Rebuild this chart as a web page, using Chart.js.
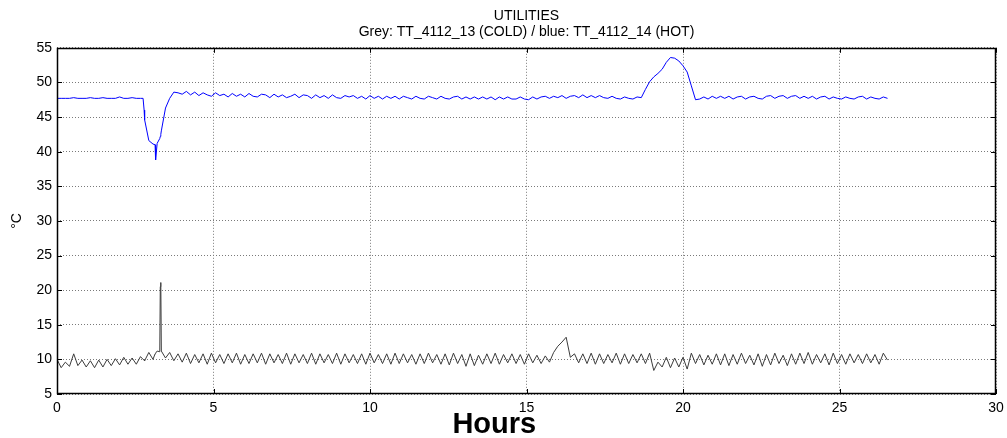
<!DOCTYPE html>
<html>
<head>
<meta charset="utf-8">
<script src="https://cdn.jsdelivr.net/npm/chart.js@4"></script>
<style>
html, body { margin: 0; padding: 0; background: #fff; }
</style>
</head>
<body>
<canvas id="grafico" width="1007" height="438"></canvas>
<script>
// sample times in minutes since start
const minutes = [
  0, 8, 16, 24, 32, 40, 48, 56, 64, 72,
  80, 88, 96, 104, 112, 120, 128, 136, 144, 152,
  160, 165, 167, 168, 176, 184, 188, 189, 192, 197, 198, 199, 200, 208, 216, 224, 232,
  240, 248, 256, 264, 272, 280, 288, 296, 304, 312,
  320, 328, 336, 344, 352, 360, 368, 376, 384, 392,
  400, 408, 416, 424, 432, 440, 448, 456, 464, 472,
  480, 488, 496, 504, 512, 520, 528, 536, 544, 552,
  560, 568, 576, 584, 592, 600, 608, 616, 624, 632,
  640, 648, 656, 664, 672, 680, 688, 696, 704, 712,
  720, 728, 736, 744, 752, 760, 768, 776, 784, 792,
  800, 808, 816, 824, 832, 840, 848, 856, 864, 872,
  880, 888, 896, 904, 912, 920, 928, 936, 944, 952,
  960, 968, 976, 984, 992, 1000, 1008, 1016, 1024, 1032,
  1040, 1048, 1056, 1064, 1072, 1080, 1088, 1096, 1104, 1112,
  1120, 1128, 1136, 1144, 1152, 1160, 1168, 1176, 1184, 1192,
  1200, 1208, 1216, 1224, 1232, 1240, 1248, 1256, 1264, 1272,
  1280, 1288, 1296, 1304, 1312, 1320, 1328, 1336, 1344, 1352,
  1360, 1368, 1376, 1384, 1392, 1400, 1408, 1416, 1424, 1432,
  1440, 1448, 1456, 1464, 1472, 1480, 1488, 1496, 1504, 1512,
  1520, 1528, 1536, 1544, 1552, 1560, 1568, 1576, 1584, 1592
];

// TT_4112_13 (COLD), grey
const cold = [
  10.0, 8.8, 9.6, 9.0, 10.8, 9.1, 9.9, 8.9, 9.8, 8.8,
  9.9, 8.9, 10.0, 9.1, 10.1, 9.2, 10.3, 9.3, 10.2, 9.3,
  10.4, 10.0, 9.9, 9.8, 11.0, 10.0, 10.8, 10.9, 11.2, 11.1, 20.5, 21.1, 11.2, 10.2, 11.0, 9.8, 10.8,
  9.6, 10.9, 9.4, 10.7, 9.5, 10.8, 9.3, 10.9, 9.5, 10.7,
  9.4, 10.8, 9.5, 10.9, 9.3, 10.7, 9.4, 10.8, 9.5, 10.9,
  9.3, 10.8, 9.5, 10.7, 9.4, 10.9, 9.3, 10.8, 9.5, 10.7,
  9.4, 10.9, 9.3, 10.8, 9.5, 10.7, 9.4, 10.9, 9.3, 10.8,
  9.5, 10.7, 9.4, 10.8, 9.3, 10.9, 9.5, 10.7, 9.4, 10.8,
  9.3, 10.9, 9.4, 10.8, 9.5, 10.7, 9.3, 10.8, 9.4, 10.9,
  9.5, 10.7, 9.3, 10.8, 9.2, 10.9, 9.4, 10.7, 9.0, 10.8,
  9.1, 10.6, 9.3, 10.8, 9.4, 10.9, 9.3, 10.7, 9.5, 10.8,
  9.4, 10.7, 9.3, 10.8, 9.5, 10.6, 9.4, 10.5, 9.6, 11.0,
  11.9, 12.5, 13.2, 10.3, 10.8, 9.5, 10.8, 9.4, 10.9, 9.3,
  10.8, 9.4, 10.7, 9.5, 10.9, 9.3, 10.8, 9.4, 10.7, 9.5,
  10.8, 9.4, 10.9, 8.4, 9.6, 8.9, 10.3, 8.8, 10.2, 8.9,
  10.3, 8.6, 10.9, 9.4, 10.7, 9.2, 10.6, 9.3, 10.8, 9.2,
  10.8, 9.1, 10.7, 9.3, 10.9, 9.4, 10.6, 9.2, 10.8, 9.0,
  10.7, 9.2, 10.9, 9.4, 10.6, 9.1, 10.8, 9.3, 10.9, 9.4,
  11.0, 9.3, 10.7, 9.5, 10.8, 9.2, 10.9, 9.4, 10.7, 9.3,
  10.8, 9.5, 10.7, 9.4, 10.8, 9.5, 10.7, 9.3, 10.9, 9.9
];

// TT_4112_14 (HOT), blue
const hot = [
  47.7, 47.7, 47.7, 47.7, 47.8, 47.7, 47.7, 47.7, 47.8, 47.7,
  47.7, 47.8, 47.7, 47.7, 47.7, 47.9, 47.7, 47.7, 47.8, 47.7,
  47.7, 47.7, 46.0, 44.6, 41.6, 41.1, 41.0, 38.8, 41.2, 41.9, 42.2, 42.5, 43.0, 46.3, 47.7, 48.6, 48.5,
  48.3, 48.7, 48.2, 48.6, 48.1, 48.5, 48.2, 48.0, 48.5, 48.1,
  48.3, 47.9, 48.4, 48.0, 48.3, 47.9, 48.4, 48.0, 47.9, 48.3,
  48.2, 47.8, 48.3, 47.9, 48.2, 47.8, 48.0, 48.3, 47.8, 48.2,
  48.1, 47.7, 48.2, 47.8, 48.1, 47.7, 48.2, 47.8, 47.7, 48.1,
  47.9, 48.1, 47.7, 48.0, 47.6, 48.1, 47.7, 48.0, 47.6, 48.0,
  47.7, 48.0, 47.6, 48.0, 47.8, 47.6, 48.0, 47.7, 47.6, 48.0,
  47.8, 47.6, 48.0, 47.7, 47.6, 47.9, 48.0, 47.6, 47.9, 47.6,
  47.9, 47.6, 47.9, 47.6, 47.9, 47.5, 47.9, 47.6, 47.9, 47.6,
  47.6, 47.9, 47.6, 47.5, 47.9, 47.6, 47.9, 48.0, 47.7, 48.0,
  47.8, 48.1, 47.7, 48.0, 48.1, 47.8, 48.2, 47.8, 48.1, 47.8,
  48.1, 47.8, 47.7, 48.0, 47.7, 47.6, 47.9, 47.7, 47.6, 47.9,
  47.8, 49.0, 50.1, 50.8, 51.3, 51.9, 52.9, 53.6, 53.5, 53.1,
  52.4, 51.5, 49.5, 47.5, 47.6, 47.9, 47.6, 48.0, 47.7, 48.0,
  47.7, 48.0, 47.6, 47.9, 48.0, 47.6, 47.9, 48.0, 47.7, 47.6,
  48.0, 48.1, 47.7, 48.0, 48.1, 47.7, 48.0, 48.1, 47.7, 48.0,
  47.7, 48.0, 47.6, 47.9, 48.0, 47.6, 47.9, 47.7, 47.6, 47.9,
  47.7, 47.6, 47.9, 48.0, 47.6, 47.9, 47.7, 47.6, 47.9, 47.7
];

const xTicks = [0, 5, 10, 15, 20, 25, 30];
const yTicks = [5, 10, 15, 20, 25, 30, 35, 40, 45, 50, 55];

const FONT = 'Arial, "Liberation Sans", sans-serif';

// matlab style box with inward ticks on all four sides
const frame = {
  id: 'frame',
  afterDatasetsDraw(chart) {
    const { ctx, chartArea: a, scales: { x, y } } = chart;
    ctx.save();
    ctx.strokeStyle = '#000';
    ctx.lineWidth = 1;
    ctx.beginPath();
    x.ticks.forEach(t => {
      const px = Math.round(x.getPixelForValue(t.value)) + 0.5;
      ctx.moveTo(px, a.bottom); ctx.lineTo(px, a.bottom - 5);
      ctx.moveTo(px, a.top); ctx.lineTo(px, a.top + 5);
    });
    y.ticks.forEach(t => {
      const py = Math.round(y.getPixelForValue(t.value)) + 0.5;
      ctx.moveTo(a.left, py); ctx.lineTo(a.left + 5, py);
      ctx.moveTo(a.right, py); ctx.lineTo(a.right - 5, py);
    });
    ctx.stroke();
    ctx.lineWidth = 1.5;
    ctx.strokeRect(Math.round(a.left) + 0.5, Math.round(a.top) + 0.5,
      Math.round(a.width) - 1, Math.round(a.height) - 1);
    ctx.restore();
  }
};

const ctx = document.getElementById('grafico');

new Chart(ctx, {
  type: 'line',
  data: {
    datasets: [
      {
        label: 'TT_4112_13 (COLD)',
        data: minutes.map((m, i) => ({ x: m / 60, y: cold[i] })),
        borderColor: '#3c3c3c',
        borderWidth: 1,
        pointRadius: 0,
        tension: 0
      },
      {
        label: 'TT_4112_14 (HOT)',
        data: minutes.map((m, i) => ({ x: m / 60, y: hot[i] })),
        borderColor: '#0000ff',
        borderWidth: 1,
        pointRadius: 0,
        tension: 0
      }
    ]
  },
  options: {
    responsive: false,
    animation: false,
    layout: { padding: { left: 0, right: 11, top: 0, bottom: 0 } },
    plugins: {
      legend: { display: false },
      tooltip: { enabled: false },
      title: {
        display: true,
        text: 'UTILITIES',
        fullSize: false,
        color: '#000',
        font: { family: FONT, size: 14, weight: 'normal', lineHeight: 1.1 },
        padding: { top: 8, bottom: 1 }
      },
      subtitle: {
        display: true,
        text: 'Grey: TT_4112_13 (COLD) / blue: TT_4112_14 (HOT)',
        fullSize: false,
        color: '#000',
        font: { family: FONT, size: 14, weight: 'normal', lineHeight: 1.1 },
        padding: { top: 0, bottom: 8 }
      }
    },
    scales: {
      x: {
        type: 'linear',
        min: 0,
        max: 30,
        afterBuildTicks: s => { s.ticks = xTicks.map(v => ({ value: v })); },
        afterFit: s => { s.height = 44; s.paddingRight = 0; },
        ticks: { color: '#000', font: { family: FONT, size: 14 }, padding: 6, maxRotation: 0 },
        grid: { color: '#7a7a7a', drawTicks: false },
        border: { display: false, dash: [1, 2] },
        title: {
          display: true,
          // trailing spaces push the centred label left, as in the source plot
          text: 'Hours\u00a0\u00a0\u00a0\u00a0\u00a0\u00a0\u00a0\u00a0',
          color: '#000',
          font: { family: FONT, size: 29, weight: 'bold', lineHeight: 1 },
          padding: { top: 0, bottom: -1 }
        }
      },
      y: {
        min: 5,
        max: 55,
        afterBuildTicks: s => { s.ticks = yTicks.map(v => ({ value: v })); },
        afterFit: s => { s.width = 57; },
        ticks: { color: '#000', font: { family: FONT, size: 14 }, padding: 5 },
        grid: { color: '#7a7a7a', drawTicks: false },
        border: { display: false, dash: [1, 2] },
        title: {
          display: true,
          text: '°C',
          color: '#000',
          font: { family: FONT, size: 14, weight: 'normal', lineHeight: 1.2 },
          padding: { top: 9, bottom: 0 }
        }
      }
    }
  },
  plugins: [frame]
});
</script>
</body>
</html>
